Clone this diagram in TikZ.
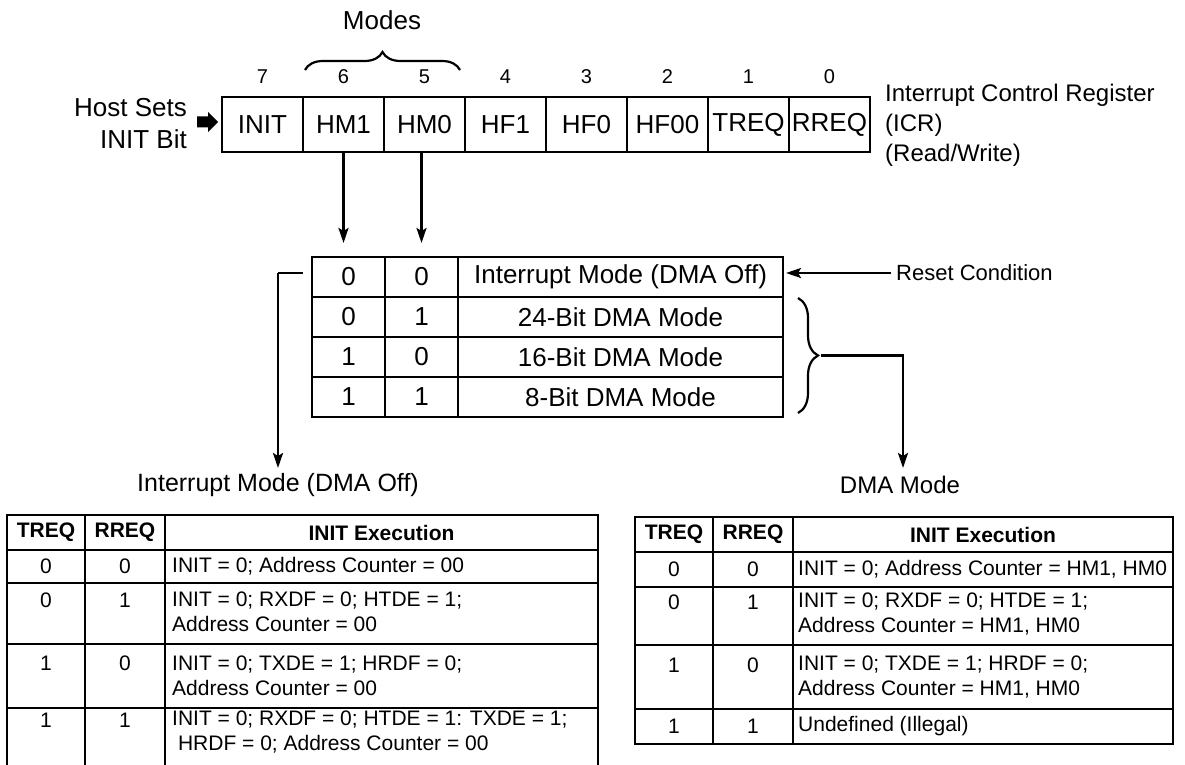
\documentclass[tikz,border=0pt]{standalone}
\usepackage{fontspec}
\setmainfont{Liberation Sans}
\usetikzlibrary{arrows.meta,decorations.pathreplacing,calc}
\begin{document}
\begin{tikzpicture}[x=1pt,y=-1pt,
  regcell/.style={draw, line width=2.6pt, minimum width=81pt, minimum height=55pt, inner sep=0pt, font=\fontsize{26}{30}\selectfont},
  bitnum/.style={inner sep=0pt, font=\fontsize{20}{24}\selectfont},
  bigtxt/.style={inner sep=0pt, font=\fontsize{26}{31}\selectfont},
  labtxt/.style={inner sep=0pt, font=\fontsize{25}{30}\selectfont},
  ttxt/.style={inner sep=0pt, font=\fontsize{21}{25}\selectfont},
  thead/.style={inner sep=0pt, font=\bfseries\fontsize{21}{25}\selectfont},
  conn/.style={line width=2.4pt},
  arr/.style={conn, -{Stealth[length=15pt,width=10pt,inset=3pt]}},
  mline/.style={line width=1.7pt},
  tline/.style={line width=1.5pt},
  brc/.style={decorate, line width=2.2pt}
]
\useasboundingbox (0,0) rectangle (1185,765);

% ---------- register ----------
\foreach \t [count=\i from 0] in {INIT,HM1,HM0,HF1,HF0,HF00,TREQ,RREQ} {
  \pgfmathtruncatemacro\b{7-\i}
  \node[regcell] (c\b) at (262.5+81*\i,124.5) {\t};
  \node[bitnum] (n\b) at (262.5+81*\i,77) {\b};
}
\draw[brc, decoration={brace, amplitude=18pt}] (305,70) -- (460,70);
\node[bigtxt] (modes) at (382,20) {Modes};

\node[inner sep=0pt, align=right, anchor=east, font=\fontsize{26}{32}\selectfont] (host) at (187,124) {Host Sets\\INIT Bit};
\fill (197,116.5) -- (208,116.5) -- (208,112) -- (218,122) -- (208,132) -- (208,127.5) -- (197,127.5) -- cycle;

\node[inner sep=0pt, anchor=west, align=left, font=\fontsize{24}{30}\selectfont] (icr) at (885,125) {Interrupt Control Register\\(ICR)\\(Read/Write)};

% ---------- mode table ----------
\draw[mline] (312,257) rectangle (783,417);
\foreach \y in {297,337,377} \draw[mline] (312,\y) -- (783,\y);
\draw[mline] (385,257) -- (385,417);
\draw[mline] (458,257) -- (458,417);
\foreach \a/\b/\c [count=\r from 0] in {0/0/Interrupt Mode (DMA Off),0/1/24-Bit DMA Mode,1/0/16-Bit DMA Mode,1/1/8-Bit DMA Mode} {
  \node[bigtxt] (ma\r) at (348.5,277+40*\r) {\a};
  \node[bigtxt] (mb\r) at (421.5,277+40*\r) {\b};
  \node[bigtxt] (mc\r) at (620.5,277+40*\r) {\c};
}

\coordinate (tt) at (0,243);
\draw[arr] (c6.south) -- (c6.south |- tt);
\draw[arr] ($(c5.south)+(-3,0)$) -- ($(c5.south |- tt)+(-3,0)$);

% reset condition
\node[inner sep=0pt, anchor=west, font=\fontsize{22}{26}\selectfont] (reset) at (896,273) {Reset Condition};
\coordinate (mR) at (786,273);
\draw[arr, shorten <=5pt] (reset.west) -- (mR);

% left bracket to interrupt mode
\node[labtxt] (imode) at (278,485) {Interrupt Mode (DMA Off)};
\coordinate (lb0) at (303,273);
\coordinate (lb1) at (278,273);
\coordinate (lb2) at (278,468);
\draw[conn] (lb0) -- (lb1);
\draw[arr] (lb1) -- (lb2);

% right brace to DMA mode
\draw[brc, decoration={brace, amplitude=20pt}] (798,298) -- (798,413);
\coordinate (btip) at (821,355.5);
\node[inner sep=0pt, font=\fontsize{24}{28}\selectfont] (dma) at (900,485) {DMA Mode};
\coordinate (dmaa) at (903,468);
\draw[arr] (btip) -| (dmaa);

% ---------- left lower table ----------
\draw[tline] (7,515) rectangle (598,772);
\foreach \y in {550,583,644,708} \draw[tline] (7,\y) -- (598,\y);
\draw[tline] (85,515) -- (85,772);
\draw[tline] (165,515) -- (165,772);
\node[thead] (lh1) at (46,532.5) {TREQ};
\node[thead] (lh2) at (125,532.5) {RREQ};
\node[thead] (lh3) at (381.5,532.5) {INIT Execution};
\node[ttxt] (l1a) at (46,566) {0};
\node[ttxt] (l1b) at (125,566) {0};
\node[ttxt, anchor=west] (l1c) at (172,566) {INIT = 0; Address Counter = 00};
\node[ttxt] (l2a) at (46,600) {0};
\node[ttxt] (l2b) at (125,600) {1};
\node[ttxt, anchor=west, align=left] (l2c) at (172,612) {INIT = 0; RXDF = 0; HTDE = 1;\\Address Counter = 00};
\node[ttxt] (l3a) at (46,663) {1};
\node[ttxt] (l3b) at (125,663) {0};
\node[ttxt, anchor=west, align=left] (l3c) at (172,675.5) {INIT = 0; TXDE = 1; HRDF = 0;\\Address Counter = 00};
\node[ttxt] (l4a) at (46,720) {1};
\node[ttxt] (l4b) at (125,720) {1};
\node[ttxt, anchor=west, align=left] (l4c) at (172,732.5) {INIT = 0; RXDF = 0; HTDE = 1: TXDE = 1;\\\ HRDF = 0; Address Counter = 00};

% ---------- right lower table ----------
\draw[tline] (635,517) rectangle (1173,744);
\foreach \y in {552,587,645,709} \draw[tline] (635,\y) -- (1173,\y);
\draw[tline] (713,517) -- (713,744);
\draw[tline] (793,517) -- (793,744);
\node[thead] (rh1) at (674,534.5) {TREQ};
\node[thead] (rh2) at (753,534.5) {RREQ};
\node[thead] (rh3) at (983,534.5) {INIT Execution};
\node[ttxt] (r1a) at (674,569) {0};
\node[ttxt] (r1b) at (753,569) {0};
\node[ttxt, anchor=west] (r1c) at (798,569) {INIT = 0; Address Counter = HM1, HM0};
\node[ttxt] (r2a) at (674,602) {0};
\node[ttxt] (r2b) at (753,602) {1};
\node[ttxt, anchor=west, align=left] (r2c) at (798,614) {INIT = 0; RXDF = 0; HTDE = 1;\\Address Counter = HM1, HM0};
\node[ttxt] (r3a) at (674,665) {1};
\node[ttxt] (r3b) at (753,665) {0};
\node[ttxt, anchor=west, align=left] (r3c) at (798,677.5) {INIT = 0; TXDE = 1; HRDF = 0;\\Address Counter = HM1, HM0};
\node[ttxt] (r4a) at (674,726.5) {1};
\node[ttxt] (r4b) at (753,726.5) {1};
\node[ttxt, anchor=west] (r4c) at (798,726.5) {Undefined (Illegal)};
\end{tikzpicture}
\end{document}
